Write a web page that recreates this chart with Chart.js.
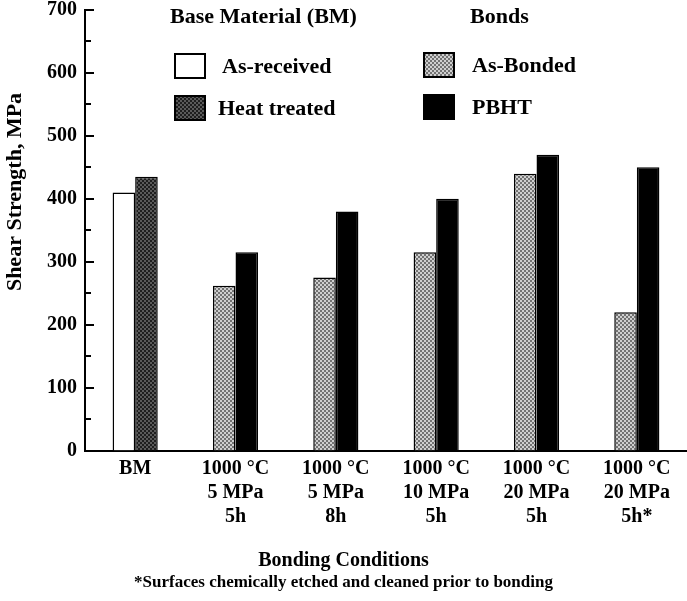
<!DOCTYPE html>
<html>
<head>
<meta charset="utf-8">
<script src="https://cdn.jsdelivr.net/npm/chart.js@4.4.1/dist/chart.umd.min.js"></script>
<style>
  html, body { margin: 0; padding: 0; background: #fff; }
  #wrap { width: 687px; height: 601px; }
</style>
</head>
<body>
<div id="wrap"><canvas id="shearChart"></canvas></div>
<script>
const categories = [
    ['BM'],
    ['1000 °C', '5 MPa', '5h'],
    ['1000 °C', '5 MPa', '8h'],
    ['1000 °C', '10 MPa', '5h'],
    ['1000 °C', '20 MPa', '5h'],
    ['1000 °C', '20 MPa', '5h*']
];
const asReceived = [410, null, null, null, null, null];
const heatTreated = [435, null, null, null, null, null];
const asBonded = [null, 262, 275, 315, 440, 220];
const pbht = [null, 315, 380, 400, 470, 450];
const yTicks = [0, 100, 200, 300, 400, 500, 600, 700];

const FONT = '"Liberation Serif", "Times New Roman", serif';

function makePattern(base, dot) {
    const c = document.createElement('canvas');
    c.width = 4;
    c.height = 4;
    const p = c.getContext('2d');
    p.fillStyle = base;
    p.fillRect(0, 0, 4, 4);
    p.fillStyle = dot;
    p.fillRect(0, 0, 2, 2);
    p.fillRect(2, 2, 2, 2);
    return p.createPattern(c, 'repeat');
}

const ctx = document.getElementById('shearChart').getContext('2d');
const heatFill = makePattern('#1e1e1e', '#5a5a5a');
const bondFill = makePattern('#727272', '#cfcfcf');

// legend + inward ticks + y title drawn by hand
const decorPlugin = {
    id: 'decor',
    afterDraw(chart) {
        const c = chart.ctx;
        const y = chart.scales.y;
        const left = chart.chartArea.left;
        c.save();
        c.strokeStyle = '#000';
        c.lineWidth = 2;
        for (let v = 0; v <= 700; v += 50) {
            const py = Math.round(y.getPixelForValue(v));
            c.beginPath();
            c.moveTo(left, py);
            c.lineTo(left + (v % 100 === 0 ? 9 : 6), py);
            c.stroke();
        }

        c.fillStyle = '#000';
        c.font = 'bold 22px ' + FONT;
        c.textBaseline = 'middle';
        c.textAlign = 'left';
        c.fillText('Base Material (BM)', 170, 17);
        c.fillText('Bonds', 470, 17);

        const ds = chart.data.datasets;
        const items = [
            { d: ds[0], bx: 175, by: 54, tx: 222 },
            { d: ds[2], bx: 175, by: 96, tx: 218 },
            { d: ds[1], bx: 424, by: 53, tx: 472 },
            { d: ds[3], bx: 424, by: 95, tx: 472 }
        ];
        items.forEach(function (it) {
            c.fillStyle = it.d.backgroundColor;
            c.fillRect(it.bx, it.by, 30, 24);
            c.lineWidth = 2;
            c.strokeStyle = '#000';
            c.strokeRect(it.bx, it.by, 30, 24);
            c.fillStyle = '#000';
            c.fillText(it.d.label, it.tx, it.by + 13);
        });

        c.translate(15, 192);
        c.rotate(-Math.PI / 2);
        c.textAlign = 'center';
        c.font = 'bold 22px ' + FONT;
        c.fillText('Shear Strength, MPa', 0, 0);
        c.restore();
    }
};

new Chart(ctx, {
    type: 'bar',
    data: {
        labels: categories,
        datasets: [
            { label: 'As-received', data: asReceived, stack: 'a', backgroundColor: '#ffffff' },
            { label: 'As-Bonded', data: asBonded, stack: 'a', backgroundColor: bondFill },
            { label: 'Heat treated', data: heatTreated, stack: 'b', backgroundColor: heatFill },
            { label: 'PBHT', data: pbht, stack: 'b', backgroundColor: '#000000' }
        ]
    },
    options: {
        responsive: true,
        maintainAspectRatio: false,
        animation: false,
        layout: { padding: { top: 10, right: 0, left: 0, bottom: 0 } },
        datasets: {
            bar: {
                borderColor: '#000',
                borderWidth: 1.5,
                categoryPercentage: 0.45,
                barPercentage: 1.0
            }
        },
        scales: {
            x: {
                stacked: true,
                grid: { display: false, drawTicks: false },
                border: { display: true, color: '#000', width: 2 },
                ticks: {
                    color: '#000',
                    padding: 6,
                    maxRotation: 0,
                    autoSkip: false,
                    font: { family: FONT, size: 20, weight: 'bold', lineHeight: 1.2 }
                },
                afterFit(s) { s.height = 99; }
            },
            y: {
                stacked: true,
                min: 0,
                max: 700,
                afterBuildTicks(s) { s.ticks = yTicks.map(v => ({ value: v })); },
                grid: { display: false, drawTicks: false },
                border: { display: true, color: '#000', width: 2 },
                ticks: {
                    color: '#000',
                    padding: 8,
                    font: { family: FONT, size: 20, weight: 'bold' }
                },
                afterFit(s) {
                    s.width = 85;
                    s.paddingTop = 0;
                    s.paddingBottom = 0;
                }
            }
        },
        plugins: {
            legend: { display: false },
            tooltip: { enabled: false },
            title: {
                display: true,
                text: 'Bonding Conditions',
                position: 'bottom',
                weight: 1400,
                color: '#000',
                padding: { top: 0, bottom: 0 },
                font: { family: FONT, size: 20, weight: 'bold', lineHeight: 1.15 }
            },
            subtitle: {
                display: true,
                text: '*Surfaces chemically etched and cleaned prior to bonding',
                position: 'bottom',
                weight: 1500,
                color: '#000',
                padding: { top: 0, bottom: 8 },
                font: { family: FONT, size: 17, weight: 'bold', lineHeight: 1.2 }
            }
        }
    },
    plugins: [decorPlugin]
});
</script>
</body>
</html>
